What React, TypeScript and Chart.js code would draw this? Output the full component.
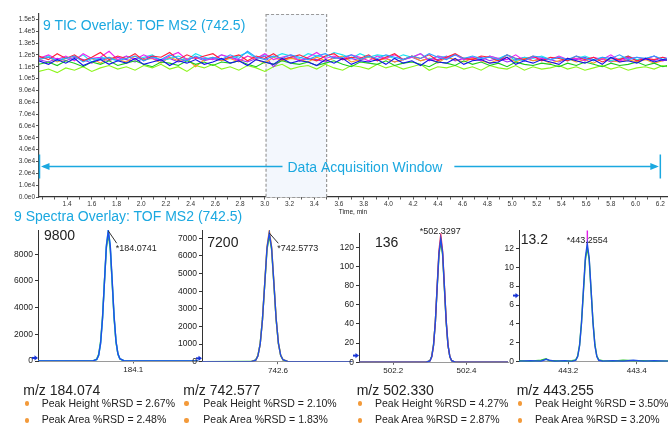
import React, { useEffect, useRef } from 'react';
import { Chart, registerables } from 'chart.js';

Chart.register(...registerables);

const FONT = "Arial, 'Liberation Sans', Helvetica, sans-serif";
const CYAN = '#1ba8e0';
const INK = '#222222';

// ---------------- TIC overlay (intensity in thousands of counts) ----------------
const ticTimes = [
  1.17, 1.25, 1.32, 1.39, 1.46, 1.53, 1.60, 1.67, 1.74, 1.81,
  1.88, 1.95, 2.02, 2.09, 2.16, 2.23, 2.30, 2.37, 2.44, 2.51,
  2.58, 2.65, 2.72, 2.79, 2.86, 2.93, 3.00, 3.07, 3.14, 3.21,
  3.28, 3.35, 3.42, 3.49, 3.56, 3.63, 3.70, 3.77, 3.84, 3.91,
  3.98, 4.05, 4.12, 4.19, 4.26, 4.33, 4.40, 4.47, 4.54, 4.61,
  4.68, 4.75, 4.82, 4.89, 4.96, 5.03, 5.10, 5.17, 5.24, 5.31,
  5.38, 5.45, 5.52, 5.59, 5.66, 5.73, 5.80, 5.87, 5.94, 6.01,
  6.08, 6.15, 6.22, 6.29,
];
const ticBlue = [
  115, 112, 116, 113, 117, 111, 114, 116, 112, 115,
  113, 117, 112, 114, 116, 111, 115, 113, 116, 112,
  114, 117, 113, 115, 111, 116, 114, 112, 117, 113,
  115, 114, 111, 116, 113, 117, 112, 115, 114, 116,
  112, 117, 113, 115, 111, 116, 114, 113, 117, 112,
  115, 116, 113, 114, 118, 112, 115, 113, 116, 114,
  112, 117, 115, 113, 116, 112, 118, 114, 115, 113,
  117, 114, 116, 115,
];
const ticRed = [
  119, 116, 121, 117, 120, 115, 118, 122, 116, 119,
  117, 121, 115, 119, 118, 122, 116, 120, 117, 119,
  121, 116, 118, 120, 115, 119, 117, 121, 116, 118,
  120, 117, 115, 119, 121, 116, 118, 117, 120, 115,
  118, 121, 116, 119, 117, 120, 115, 118, 121, 117,
  116, 119, 118, 115, 120, 117, 116, 119, 115, 118,
  117, 115, 119, 116, 118, 114, 117, 116, 119, 115,
  117, 116, 118, 115,
];
const ticMagenta = [
  117, 120, 116, 119, 115, 121, 117, 118, 123, 116,
  119, 116, 120, 117, 115, 119, 122, 116, 118, 117,
  116, 120, 118, 115, 119, 117, 121, 116, 118, 120,
  115, 118, 122, 117, 119, 116, 120, 118, 115, 119,
  117, 120, 116, 118, 121, 115, 119, 117, 120, 116,
  118, 115, 119, 117, 116, 120, 115, 118, 117, 116,
  119, 116, 117, 115, 118, 116, 120, 115, 117, 118,
  116, 119, 115, 117,
];
const ticOrange = [
  116, 118, 114, 117, 119, 115, 117, 113, 118, 116,
  114, 119, 116, 117, 113, 118, 115, 117, 110, 116,
  118, 115, 117, 114, 119, 116, 113, 118, 115, 117,
  116, 114, 118, 115, 117, 119, 114, 116, 118, 115,
  117, 114, 116, 119, 115, 117, 113, 118, 116, 114,
  117, 115, 113, 116, 118, 114, 117, 115, 116, 113,
  115, 117, 114, 116, 113, 117, 115, 114, 116, 114,
  116, 113, 115, 117,
];
const ticGreen = [
  112, 114, 111, 115, 113, 110, 114, 112, 115, 111,
  113, 115, 112, 110, 114, 113, 111, 115, 112, 114,
  111, 114, 113, 115, 112, 110, 114, 112, 115, 113,
  112, 114, 111, 113, 115, 112, 110, 114, 113, 112,
  115, 111, 113, 114, 112, 110, 114, 113, 111, 115,
  112, 114, 111, 113, 110, 114, 112, 111, 113, 112,
  110, 113, 111, 114, 112, 110, 113, 111, 112, 114,
  111, 113, 110, 112,
];
const ticLime = [
  106, 108, 105, 109, 107, 110, 106, 109, 111, 108,
  110, 107, 111, 109, 112, 108, 110, 106, 111, 109,
  112, 108, 110, 107, 111, 109, 106, 110, 112, 108,
  110, 111, 108, 112, 109, 107, 111, 110, 108, 112,
  109, 111, 108, 110, 112, 107, 110, 109, 111, 108,
  110, 107, 111, 109, 108, 111, 107, 110, 108, 109,
  111, 108, 110, 107, 109, 111, 108, 110, 107, 109,
  110, 108, 111, 109,
];
const ticCyan = [
  117, 119, 115, 118, 116, 120, 114, 118, 117, 115,
  119, 116, 118, 120, 115, 117, 119, 116, 121, 118,
  116, 120, 117, 119, 122, 117, 120, 118, 121, 119,
  117, 121, 119, 118, 122, 120, 117, 121, 118, 120,
  119, 117, 120, 118, 121, 116, 119, 118, 120, 117,
  118, 116, 119, 117, 120, 115, 118, 117, 119, 116,
  118, 115, 117, 119, 116, 118, 115, 117, 119, 116,
  117, 119, 116, 118,
];
const ticSky = [
  116, 118, 115, 117, 119, 114, 117, 116, 118, 115,
  117, 119, 115, 118, 116, 120, 117, 115, 119, 116,
  118, 116, 120, 117, 123, 118, 116, 119, 117, 120,
  118, 116, 119, 121, 117, 118, 120, 116, 119, 117,
  120, 118, 116, 119, 117, 121, 118, 116, 120, 117,
  119, 117, 118, 116, 120, 117, 115, 119, 118, 116,
  118, 116, 119, 117, 115, 118, 117, 120, 116, 118,
  117, 119, 116, 118,
];
const ticPurple = [
  116, 114, 117, 115, 118, 116, 113, 117, 115, 118,
  116, 114, 117, 119, 115, 117, 114, 116, 118, 115,
  117, 115, 118, 116, 114, 117, 119, 110, 116, 118,
  115, 117, 116, 114, 118, 116, 117, 115, 119, 116,
  117, 114, 116, 118, 115, 117, 116, 119, 115, 117,
  116, 118, 115, 117, 114, 116, 118, 115, 117, 116,
  114, 117, 116, 118, 115, 117, 114, 116, 118, 115,
  117, 115, 118, 116,
];

const ticSeries = [
  { name: 'Injection 1', color: '#1212e6', values: ticBlue },
  { name: 'Injection 2', color: '#2f9dff', values: ticSky },
  { name: 'Injection 3', color: '#ff1f3d', values: ticRed },
  { name: 'Injection 4', color: '#ee22ee', values: ticMagenta },
  { name: 'Injection 5', color: '#1ecb1e', values: ticGreen },
  { name: 'Injection 6', color: '#19e3f0', values: ticCyan },
  { name: 'Injection 7', color: '#ff9a1f', values: ticOrange },
  { name: 'Injection 8', color: '#9a2cf5', values: ticPurple },
  { name: 'Injection 9', color: '#8cf51a', values: ticLime },
];

const ticXTicks = [
  1.2, 1.3, 1.4, 1.5, 1.6, 1.7, 1.8, 1.9, 2.0, 2.1, 2.2, 2.3, 2.4, 2.5, 2.6, 2.7, 2.8, 2.9,
  3.0, 3.1, 3.2, 3.3, 3.4, 3.5, 3.6, 3.7, 3.8, 3.9, 4.0, 4.1, 4.2, 4.3, 4.4, 4.5, 4.6, 4.7,
  4.8, 4.9, 5.0, 5.1, 5.2, 5.3, 5.4, 5.5, 5.6, 5.7, 5.8, 5.9, 6.0, 6.1, 6.2,
];
const ticXRange = [1.173, 6.254];
const ticYMax = 154.5;
const windowRange = [3.01, 3.5];
const acqLevel = 26;
const acqEnd = 6.2;
const acqLabelAt = 3.81;

// ---------------- Spectra (m/z vs intensity) ----------------
const mz1 = [184.0, 184.0581, 184.0621, 184.0641, 184.0661, 184.0681, 184.0701, 184.0721, 184.0741, 184.0761, 184.0781, 184.0801, 184.0821, 184.0841, 184.0861, 184.0901, 184.0941, 184.17];
const blue1 = [0, 10, 110, 430, 1320, 3170, 5910, 8600, 9750, 8650, 6050, 3350, 1480, 540, 170, 25, 0, 0];
const cyan1 = [0, 10, 100, 410, 1300, 3150, 5950, 8700, 9820, 8700, 6000, 3300, 1450, 520, 160, 25, 0, 0];
const green1 = [0, 15, 140, 500, 1450, 3300, 5950, 8450, 9500, 8400, 5850, 3200, 1400, 500, 150, 20, 0, 0];

const mz2 = [742.40, 742.5297, 742.5416, 742.5475, 742.5535, 742.5594, 742.5654, 742.5713, 742.5773, 742.5833, 742.5892, 742.5951, 742.6011, 742.6070, 742.6130, 742.6249, 742.6368, 742.80];
const blue2 = [0, 5, 80, 320, 990, 2370, 4430, 6440, 7300, 6460, 4500, 2450, 1050, 360, 110, 15, 0, 0];
const orange2 = [0, 5, 80, 320, 990, 2380, 4460, 6520, 7420, 6520, 4520, 2460, 1050, 360, 110, 15, 0, 0];
const green2 = [0, 8, 95, 345, 1030, 2400, 4400, 6350, 7150, 6350, 4420, 2400, 1030, 355, 105, 14, 0, 0];

const mz3 = [502.10, 502.2901, 502.3000, 502.3050, 502.3099, 502.3149, 502.3198, 502.3248, 502.3297, 502.3347, 502.3396, 502.3446, 502.3495, 502.3545, 502.3594, 502.3693, 502.3792, 502.52];
const blue3 = [0, 0.1, 1.4, 5.7, 17.5, 41.9, 78.2, 113.8, 129, 114.5, 79, 42.5, 18, 6, 1.7, 0.2, 0, 0];
const red3 = [0, 0.1, 1.4, 5.7, 17.5, 42, 79, 116, 133, 116, 80, 43, 18, 6, 1.7, 0.2, 0, 0];
const green3 = [0, 0.2, 1.6, 6.2, 18.4, 42, 77, 112, 126, 112, 77, 41, 17.5, 5.8, 1.6, 0.2, 0, 0];

const mz4 = [443.05, 443.09, 443.12, 443.135, 443.145, 443.16, 443.19, 443.2106, 443.2218, 443.2274, 443.2330, 443.2386, 443.2442, 443.2498, 443.2554, 443.2610, 443.2666, 443.2722, 443.2778, 443.2834, 443.2890, 443.3002, 443.33, 443.36, 443.39, 443.42, 443.45, 443.50];
const blue4 = [0.05, 0.1, 0.05, 0.25, 0.15, 0.05, 0.1, 0.03, 0.15, 0.55, 1.7, 4.1, 7.6, 11.0, 12.5, 11.0, 7.6, 4.1, 1.7, 0.55, 0.15, 0.05, 0.1, 0.05, 0.15, 0.05, 0.1, 0.05];
const green4 = [0.1, 0.05, 0.15, 0.3, 0.1, 0.1, 0.05, 0.1, 0.2, 0.6, 1.8, 4.2, 7.4, 10.7, 12.1, 10.8, 7.5, 4.2, 1.8, 0.6, 0.2, 0.1, 0.05, 0.15, 0.1, 0.1, 0.05, 0.1];
const mzSpike4 = [443.2549, 443.2554, 443.2559];
const magenta4 = [12.3, 13.9, 12.3];

const panelMaxLabels = [9800, 7200, 136, 13.2];
const peakMz = [184.0741, 742.5773, 502.3297, 443.2554];
const peakTop = [9750, 7300, 129, 12.5];
const markerLevel = [230, 190, 7, 7];
const xTickSets = [[184.1], [742.6], [502.2, 502.4], [443.2, 443.4]];
const yTickSets = [
  [0, 2000, 4000, 6000, 8000],
  [0, 1000, 2000, 3000, 4000, 5000, 6000, 7000],
  [0, 20, 40, 60, 80, 100, 120],
  [0, 2, 4, 6, 8, 10, 12],
];
const yMaxes = [9820, 7470, 134.6, 13.94];
const xRanges = [[184.00125, 184.16705], [742.4016, 742.7932], [502.1063, 502.5134], [443.0558, 443.4915]];

const statMz = [184.074, 742.577, 502.330, 443.255];
const peakHeightRsd = [2.67, 2.10, 4.27, 3.50];
const peakAreaRsd = [2.48, 1.83, 2.87, 3.20];

const SPEC_BLUE = '#1f4ee6';

const panelSeries = [
  [
    { color: SPEC_BLUE, mz: mz1, values: blue1 },
    { color: '#33c8f0', mz: mz1, values: cyan1 },
    { color: '#2ec82e', mz: mz1, values: green1 },
  ],
  [
    { color: SPEC_BLUE, mz: mz2, values: blue2 },
    { color: '#ff8a1a', mz: mz2, values: orange2 },
    { color: '#2ec82e', mz: mz2, values: green2 },
  ],
  [
    { color: SPEC_BLUE, mz: mz3, values: blue3 },
    { color: '#ff2a4a', mz: mz3, values: red3 },
    { color: '#2ec82e', mz: mz3, values: green3 },
  ],
  [
    { color: SPEC_BLUE, mz: mz4, values: blue4 },
    { color: '#e020e8', mz: mzSpike4, values: magenta4 },
    { color: '#2ec82e', mz: mz4, values: green4 },
  ],
];

// layout of each spectrum panel (pixels)
const panelLayout = [
  { left: 0, width: 200, yWidth: 38, padTop: 10, padRight: 2, padBottom: 2, labelAlign: 'left', tx: 7.4, ty: 18, leader: [8.4, 12.3] },
  { left: 170, width: 185, yWidth: 32, padTop: 10, padRight: 3, padBottom: 1.3, labelAlign: 'left', tx: 8, ty: 15.3, leader: [9, 10.3] },
  { left: 330, width: 180, yWidth: 29, padTop: 13.3, padRight: 2, padBottom: 0.7, labelAlign: 'center', tx: -0.5, ty: -6.7, leader: null },
  { left: 495, width: 173, yWidth: 24, padTop: 10, padRight: 0, padBottom: 1.3, labelAlign: 'center', tx: 0, ty: -3.1, leader: null },
];
const PANEL_TOP = 220;
const PANEL_H = 155;

const ticDecor = {
  id: 'ticDecor',
  beforeDatasetsDraw(chart: any) {
    const { ctx, chartArea: a, scales } = chart;
    const x = scales.x;
    const x0 = x.getPixelForValue(windowRange[0]);
    const x1 = x.getPixelForValue(windowRange[1]);
    ctx.save();
    ctx.fillStyle = '#f3f7fd';
    ctx.fillRect(x0, a.top, x1 - x0, a.bottom - a.top);
    ctx.strokeStyle = '#9a9a9a';
    ctx.lineWidth = 1.2;
    ctx.setLineDash([3, 2]);
    ctx.strokeRect(x0, a.top + 0.5, x1 - x0, a.bottom - a.top);
    ctx.restore();
  },
  afterDatasetsDraw(chart: any) {
    const { ctx, chartArea: a, scales } = chart;
    const x = scales.x;
    const y = scales.y;
    const yA = Math.round(y.getPixelForValue(acqLevel)) + 0.5;
    const xL = a.left + 0.5;
    const xR = x.getPixelForValue(acqEnd);
    const xc = x.getPixelForValue(acqLabelAt);
    const label = 'Data Acquisition Window';
    ctx.save();
    ctx.font = `14px ${FONT}`;
    const tw = ctx.measureText(label).width;
    ctx.strokeStyle = CYAN;
    ctx.fillStyle = CYAN;
    ctx.lineWidth = 1.5;
    ctx.beginPath();
    ctx.moveTo(xL + 4, yA);
    ctx.lineTo(xc - tw / 2 - 5, yA);
    ctx.moveTo(xc + tw / 2 + 12, yA);
    ctx.lineTo(xR - 4, yA);
    ctx.moveTo(xL, yA - 12);
    ctx.lineTo(xL, yA + 12);
    ctx.moveTo(xR, yA - 12);
    ctx.lineTo(xR, yA + 12);
    ctx.stroke();
    ctx.beginPath();
    ctx.moveTo(xL + 1.5, yA);
    ctx.lineTo(xL + 10, yA - 3.5);
    ctx.lineTo(xL + 10, yA + 3.5);
    ctx.closePath();
    ctx.moveTo(xR - 1.5, yA);
    ctx.lineTo(xR - 10, yA - 3.5);
    ctx.lineTo(xR - 10, yA + 3.5);
    ctx.closePath();
    ctx.fill();
    ctx.textAlign = 'center';
    ctx.textBaseline = 'alphabetic';
    ctx.fillText(label, xc, yA + 5);
    ctx.restore();
  },
};

function spectrumDecor(i: number) {
  const lay = panelLayout[i];
  return {
    id: 'specDecor' + i,
    afterDatasetsDraw(chart: any) {
      const { ctx, chartArea: a, scales } = chart;
      const x = scales.x;
      const y = scales.y;
      const px = x.getPixelForValue(peakMz[i]);
      const py = y.getPixelForValue(peakTop[i]);
      ctx.save();
      if (lay.leader) {
        ctx.strokeStyle = '#333';
        ctx.lineWidth = 1;
        ctx.beginPath();
        ctx.moveTo(px, py);
        ctx.lineTo(px + lay.leader[0], py + lay.leader[1]);
        ctx.stroke();
      }
      ctx.fillStyle = INK;
      ctx.font = `9px ${FONT}`;
      ctx.textAlign = lay.labelAlign;
      ctx.textBaseline = 'middle';
      ctx.fillText('*' + peakMz[i].toFixed(4), px + lay.tx, py + lay.ty);
      // blue marker arrow at the axis
      const my = y.getPixelForValue(markerLevel[i]);
      const mx = a.left;
      ctx.fillStyle = '#1633d6';
      ctx.fillRect(mx - 6, my - 1, 3, 2);
      ctx.beginPath();
      ctx.moveTo(mx, my);
      ctx.lineTo(mx - 3.5, my - 2.6);
      ctx.lineTo(mx - 3.5, my + 2.6);
      ctx.closePath();
      ctx.fill();
      ctx.restore();
    },
  };
}

function ticConfig(): any {
  return {
    type: 'line',
    data: {
      datasets: ticSeries.map((s) => ({
        label: s.name,
        data: ticTimes.map((t, i) => ({ x: t, y: s.values[i] })),
        borderColor: s.color,
        borderWidth: 1.1,
        pointRadius: 0,
        tension: 0,
        fill: false,
      })),
    },
    options: {
      animation: false,
      responsive: false,
      events: [],
      layout: { padding: { left: 0, top: 14, right: 1, bottom: 4 } },
      plugins: { legend: { display: false }, tooltip: { enabled: false } },
      scales: {
        x: {
          type: 'linear',
          min: ticXRange[0],
          max: ticXRange[1],
          title: { display: true, text: 'Time, min', font: { family: FONT, size: 6.5 }, color: INK, padding: { top: 0, bottom: 2 } },
          afterBuildTicks: (s: any) => { s.ticks = ticXTicks.map((v) => ({ value: v })); },
          ticks: {
            callback: (v: number) => {
              const k = Math.round(Number(v) * 10);
              return k % 2 === 0 && k >= 14 ? (k / 10).toFixed(1) : '';
            },
            font: { family: FONT, size: 6.5 },
            color: '#333',
            padding: 1,
            maxRotation: 0,
            autoSkip: false,
          },
          grid: { display: true, drawOnChartArea: false, tickLength: 2.5, color: '#555' },
          border: { display: true, color: '#333', width: 1.2 },
          afterFit: (s: any) => { s.height = 21; s.paddingLeft = 0; s.paddingRight = 0; },
        },
        y: {
          type: 'linear',
          min: 0,
          max: ticYMax,
          ticks: {
            stepSize: 10,
            includeBounds: false,
            callback: (v: number) => (v * 1000).toExponential(1).replace('+', ''),
            font: { family: FONT, size: 6.5 },
            color: '#333',
            padding: 1,
          },
          grid: { display: true, drawOnChartArea: false, tickLength: 3, color: '#555' },
          border: { display: true, color: '#444', width: 1.2 },
          afterFit: (s: any) => { s.width = 39; s.paddingTop = 0; s.paddingBottom = 0; },
        },
      },
    },
    plugins: [ticDecor],
  };
}

function spectrumConfig(i: number): any {
  const lay = panelLayout[i];
  return {
    type: 'line',
    data: {
      datasets: panelSeries[i].map((s) => ({
        data: s.mz.map((m, k) => ({ x: m, y: s.values[k] })),
        borderColor: s.color,
        borderWidth: 1.4,
        pointRadius: 0,
        tension: 0,
        fill: false,
      })),
    },
    options: {
      animation: false,
      responsive: false,
      events: [],
      layout: { padding: { left: 0, top: lay.padTop, right: lay.padRight, bottom: lay.padBottom } },
      plugins: { legend: { display: false }, tooltip: { enabled: false } },
      scales: {
        x: {
          type: 'linear',
          min: xRanges[i][0],
          max: xRanges[i][1],
          afterBuildTicks: (s: any) => { s.ticks = xTickSets[i].map((v) => ({ value: v })); },
          ticks: {
            callback: (v: number) => Number(v).toFixed(1),
            font: { family: FONT, size: 8 },
            color: INK,
            padding: 1.5,
            maxRotation: 0,
            autoSkip: false,
          },
          grid: { display: true, drawOnChartArea: false, tickLength: 2.5, color: '#666' },
          border: { display: true, color: '#9a9a9a', width: 1 },
          afterFit: (s: any) => { s.height = 12; s.paddingLeft = 0; s.paddingRight = 0; },
        },
        y: {
          type: 'linear',
          min: 0,
          max: yMaxes[i],
          afterBuildTicks: (s: any) => { s.ticks = yTickSets[i].map((v) => ({ value: v })); },
          ticks: {
            callback: (v: number) => String(v),
            font: { family: FONT, size: 8.5 },
            color: INK,
            padding: 2,
          },
          grid: { display: true, drawOnChartArea: false, tickLength: 3, color: '#333' },
          border: { display: true, color: '#333', width: 1 },
          afterFit: (s: any) => { s.width = lay.yWidth; s.paddingTop = 0; s.paddingBottom = 0; },
        },
      },
    },
    plugins: [spectrumDecor(i)],
  };
}

function ChartCanvas(props: { left: number; top: number; width: number; height: number; make: () => any }) {
  const ref = useRef<HTMLCanvasElement | null>(null);
  useEffect(() => {
    const chart = new Chart(ref.current as HTMLCanvasElement, props.make());
    return () => chart.destroy();
  }, []);
  return (
    <canvas
      ref={ref}
      width={props.width}
      height={props.height}
      style={{ position: 'absolute', left: props.left, top: props.top, width: props.width, height: props.height }}
    />
  );
}

function Txt(props: { x: number; baseline: number; size: number; color?: string; children: any }) {
  const { x, baseline, size, color, children } = props;
  return (
    <div
      style={{
        position: 'absolute',
        left: x,
        top: baseline - 0.8465 * size,
        fontSize: size,
        lineHeight: `${size}px`,
        fontFamily: FONT,
        color: color || INK,
        whiteSpace: 'nowrap',
      }}
    >
      {children}
    </div>
  );
}

const maxLabelPos = [
  { x: 44, b: 240 },
  { x: 207.3, b: 246.7 },
  { x: 375, b: 246.7 },
  { x: 520.7, b: 244.3 },
];
const colHeaderX = [23.3, 183.3, 356.7, 516.7];
const colBulletX = [26.7, 186.5, 360, 520];
const colTextX = [41.7, 203.3, 375, 535];

function Bullet(props: { x: number; y: number }) {
  return (
    <div
      style={{
        position: 'absolute',
        left: props.x - 2.2,
        top: props.y - 2.2,
        width: 4.4,
        height: 4.4,
        borderRadius: '50%',
        background: '#f39a3a',
      }}
    />
  );
}

export default function App() {
  return (
    <div style={{ position: 'fixed', left: 0, top: 0, width: 668, height: 425, background: '#fff', overflow: 'hidden' }}>
      <ChartCanvas left={0} top={0} width={668} height={222} make={ticConfig} />
      {panelLayout.map((lay, i) => (
        <ChartCanvas key={i} left={lay.left} top={PANEL_TOP} width={lay.width} height={PANEL_H} make={() => spectrumConfig(i)} />
      ))}
      <Txt x={43} baseline={29.7} size={14} color={CYAN}>9 TIC Overlay: TOF MS2 (742.5)</Txt>
      <Txt x={14} baseline={220.7} size={14} color={CYAN}>9 Spectra Overlay: TOF MS2 (742.5)</Txt>
      {panelMaxLabels.map((v, i) => (
        <Txt key={'m' + i} x={maxLabelPos[i].x} baseline={maxLabelPos[i].b} size={14}>{String(v)}</Txt>
      ))}
      {statMz.map((mz, i) => (
        <React.Fragment key={'s' + i}>
          <Txt x={colHeaderX[i]} baseline={395.3} size={14}>{'m/z ' + mz.toFixed(3)}</Txt>
          <Bullet x={colBulletX[i]} y={403.6} />
          <Txt x={colTextX[i]} baseline={406.7} size={10.5}>{'Peak Height %RSD = ' + peakHeightRsd[i].toFixed(2) + '%'}</Txt>
          <Bullet x={colBulletX[i]} y={420.4} />
          <Txt x={colTextX[i]} baseline={423.3} size={10.5}>{'Peak Area %RSD = ' + peakAreaRsd[i].toFixed(2) + '%'}</Txt>
        </React.Fragment>
      ))}
    </div>
  );
}
